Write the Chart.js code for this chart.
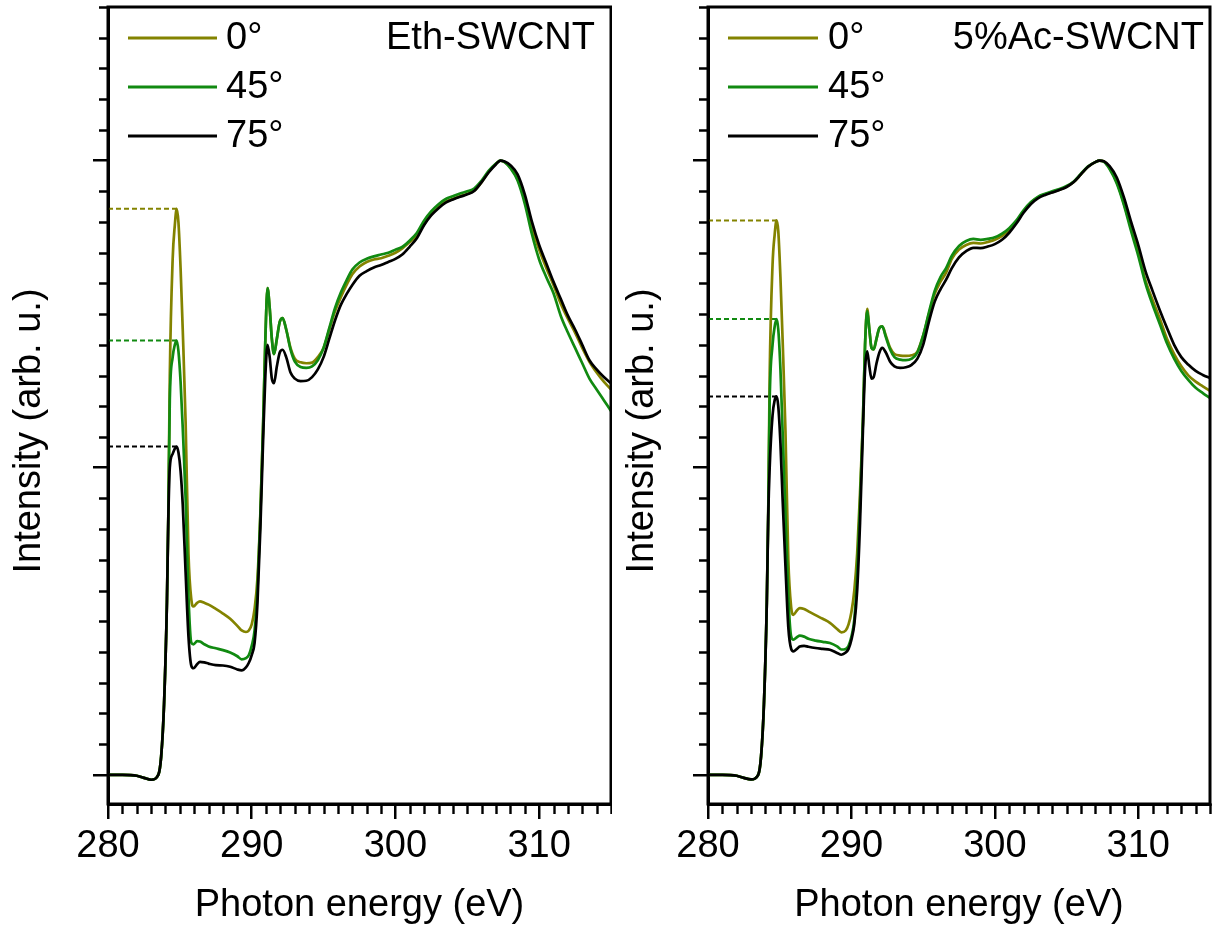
<!DOCTYPE html>
<html>
<head>
<meta charset="utf-8">
<script src="https://cdn.jsdelivr.net/npm/chart.js@4.4.1/dist/chart.umd.min.js"></script>
<style>
html,body{margin:0;padding:0;background:#fff;}
#wrap{position:relative;width:1212px;height:931px;overflow:hidden;background:#fff;}
#c1{position:absolute;left:0;top:0;}
#c2{position:absolute;left:612px;top:0;}
</style>
</head>
<body>
<div id="wrap">
<canvas id="c1" width="612" height="931"></canvas>
<canvas id="c2" width="600" height="931"></canvas>
</div>
<script>
// ---------------- data ----------------
const energy = [
 280, 281, 282, 282.5, 283, 283.5, 283.7, 283.9, 284.1, 284.2,
 284.3, 284.5, 284.65, 284.78, 284.9, 285.05, 285.2, 285.4, 285.6, 285.8,
 285.95, 286.2, 286.4, 286.7, 287, 287.5, 288, 288.5, 289, 289.3,
 289.6, 289.8, 290.0, 290.2, 290.4, 290.6, 290.8, 290.95, 291.1, 291.25,
 291.4, 291.55, 291.75, 291.95, 292.15, 292.4, 292.7, 293.0, 293.4, 293.8,
 294.2, 294.6, 295.0, 295.4, 295.8, 296.2, 296.6, 297.0, 297.5, 298,
 298.5, 299, 299.5, 300, 300.5, 301, 301.5, 302, 302.5, 303,
 303.5, 304, 304.5, 305, 305.5, 306, 306.5, 307, 307.3, 307.6,
 308, 308.5, 309, 309.5, 310, 310.5, 311, 311.5, 312, 312.5,
 313, 313.5, 314, 314.5, 315
];

// Eth-SWCNT
const eth0 = [
 0, 0, -0.003, -0.01, -0.016, 0.0, 0.06, 0.23, 0.56, 0.85,
 1.30, 1.68, 1.79, 1.843, 1.80, 1.65, 1.45, 1.15, 0.72, 0.57,
 0.548, 0.56, 0.565, 0.56, 0.554, 0.54, 0.525, 0.508, 0.485, 0.47,
 0.465, 0.47, 0.49, 0.54, 0.64, 0.85, 1.15, 1.42, 1.585, 1.52,
 1.42, 1.37, 1.42, 1.475, 1.487, 1.45, 1.39, 1.355, 1.343, 1.34,
 1.342, 1.36, 1.39, 1.45, 1.51, 1.555, 1.595, 1.63, 1.655, 1.67,
 1.678, 1.682, 1.69, 1.70, 1.715, 1.735, 1.755, 1.795, 1.825, 1.848,
 1.866, 1.875, 1.884, 1.892, 1.903, 1.93, 1.965, 1.99, 2.0, 1.995,
 1.978, 1.94, 1.87, 1.78, 1.71, 1.65, 1.595, 1.535, 1.485, 1.44,
 1.39, 1.345, 1.31, 1.28, 1.255
];
const eth45 = [
 0, 0, -0.003, -0.01, -0.016, 0.0, 0.06, 0.23, 0.56, 0.85,
 1.22, 1.36, 1.40, 1.414, 1.38, 1.28, 1.13, 0.90, 0.58, 0.43,
 0.425, 0.435, 0.434, 0.425, 0.418, 0.412, 0.406, 0.398, 0.386, 0.376,
 0.38, 0.39, 0.42, 0.47, 0.60, 0.84, 1.15, 1.42, 1.585, 1.52,
 1.42, 1.37, 1.42, 1.475, 1.487, 1.45, 1.385, 1.345, 1.328, 1.325,
 1.33, 1.35, 1.39, 1.455, 1.52, 1.57, 1.61, 1.645, 1.668, 1.68,
 1.688, 1.694, 1.70, 1.71, 1.72, 1.74, 1.765, 1.805, 1.835, 1.858,
 1.875, 1.884, 1.893, 1.900, 1.91, 1.935, 1.967, 1.99, 2.0, 1.995,
 1.975, 1.935, 1.86, 1.76, 1.678, 1.62, 1.568, 1.495, 1.44, 1.39,
 1.34, 1.29, 1.255, 1.22, 1.185
];
const eth75 = [
 0, 0, -0.003, -0.01, -0.016, 0.0, 0.06, 0.23, 0.56, 0.84,
 1.0, 1.045, 1.062, 1.069, 1.05, 0.99, 0.88, 0.66, 0.45, 0.355,
 0.347, 0.36, 0.368, 0.366, 0.362, 0.357, 0.356, 0.352, 0.343, 0.34,
 0.35, 0.365, 0.39, 0.43, 0.56, 0.80, 1.10, 1.30, 1.40, 1.36,
 1.29, 1.275, 1.33, 1.375, 1.384, 1.36, 1.31, 1.29, 1.282, 1.283,
 1.295, 1.32, 1.36, 1.42, 1.48, 1.53, 1.565, 1.595, 1.625, 1.64,
 1.652, 1.66, 1.67, 1.68, 1.695, 1.72, 1.748, 1.79, 1.822, 1.845,
 1.863, 1.873, 1.882, 1.89, 1.902, 1.93, 1.962, 1.988, 2.0, 1.997,
 1.985, 1.955, 1.89, 1.80, 1.725, 1.665, 1.605, 1.55, 1.495, 1.45,
 1.40, 1.35, 1.32, 1.295, 1.275
];

// 5%Ac-SWCNT
const ac0 = [
 0, 0, -0.003, -0.01, -0.015, 0.0, 0.06, 0.23, 0.56, 0.85,
 1.30, 1.66, 1.76, 1.805, 1.77, 1.62, 1.42, 1.12, 0.70, 0.545,
 0.521, 0.535, 0.543, 0.54, 0.532, 0.52, 0.508, 0.495, 0.475, 0.464,
 0.47, 0.49, 0.53, 0.60, 0.72, 0.92, 1.15, 1.40, 1.517, 1.45,
 1.39, 1.385, 1.42, 1.455, 1.46, 1.43, 1.39, 1.37, 1.365, 1.364,
 1.366, 1.378, 1.43, 1.50, 1.565, 1.605, 1.635, 1.68, 1.71, 1.725,
 1.732, 1.73, 1.735, 1.742, 1.755, 1.775, 1.80, 1.835, 1.862, 1.88,
 1.89, 1.897, 1.905, 1.915, 1.93, 1.955, 1.98, 1.995, 2.0, 1.997,
 1.975, 1.93, 1.86, 1.78, 1.70, 1.61, 1.545, 1.485, 1.42, 1.37,
 1.33, 1.30, 1.28, 1.265, 1.25
];
const ac45 = [
 0, 0, -0.003, -0.01, -0.015, 0.0, 0.06, 0.23, 0.56, 0.85,
 1.22, 1.40, 1.46, 1.484, 1.45, 1.32, 1.12, 0.85, 0.58, 0.45,
 0.44, 0.448, 0.453, 0.45, 0.443, 0.437, 0.433, 0.429, 0.418, 0.408,
 0.41, 0.42, 0.45, 0.505, 0.65, 0.88, 1.15, 1.40, 1.51, 1.45,
 1.39, 1.385, 1.42, 1.455, 1.46, 1.425, 1.385, 1.36, 1.352, 1.35,
 1.355, 1.375, 1.43, 1.505, 1.575, 1.62, 1.65, 1.69, 1.722, 1.738,
 1.745, 1.742, 1.745, 1.75, 1.762, 1.78, 1.805, 1.838, 1.864, 1.882,
 1.892, 1.9, 1.907, 1.917, 1.932, 1.957, 1.981, 1.995, 2.0, 1.996,
 1.972, 1.925, 1.855, 1.77, 1.69, 1.60, 1.53, 1.468, 1.405, 1.355,
 1.315, 1.285, 1.26, 1.243, 1.227
];
const ac75 = [
 0, 0, -0.003, -0.01, -0.015, 0.0, 0.06, 0.23, 0.56, 0.84,
 1.0, 1.17, 1.22, 1.232, 1.20, 1.08, 0.90, 0.68, 0.48, 0.41,
 0.402, 0.41, 0.418, 0.42, 0.417, 0.413, 0.41, 0.407, 0.397, 0.391,
 0.398, 0.41, 0.44, 0.49, 0.60, 0.82, 1.12, 1.32, 1.379, 1.33,
 1.29, 1.295, 1.34, 1.375, 1.39, 1.375, 1.345, 1.33, 1.325, 1.327,
 1.335, 1.355, 1.40, 1.475, 1.54, 1.58, 1.612, 1.65, 1.685, 1.705,
 1.716, 1.715, 1.72, 1.728, 1.742, 1.765, 1.795, 1.83, 1.858, 1.877,
 1.888, 1.896, 1.904, 1.914, 1.93, 1.955, 1.98, 1.995, 2.0, 1.998,
 1.982, 1.945, 1.88, 1.80, 1.725, 1.64, 1.575, 1.513, 1.455, 1.40,
 1.36, 1.335, 1.315, 1.302, 1.292
];

const angleLabels = ['0°', '45°', '75°'];
const panelNames = ['Eth-SWCNT', '5%Ac-SWCNT'];
const xTickValues = [280, 290, 300, 310];
const yMajorTickValues = [0, 1, 2];
const xMinorTickValues = [];
for (let v = 281; v <= 315; v++) if (v % 10 !== 0) xMinorTickValues.push(v);
const yMinorTickValues = [];
for (let i = 1; i <= 25; i++) if (i % 10 !== 0) yMinorTickValues.push(i / 10);

// ---------------- styling ----------------
const seriesColors = ['#838300', '#118a11', '#000000'];
const FONT = "'Liberation Sans', Arial, Helvetica, sans-serif";

function buildDatasets(seriesList) {
  const lines = seriesList.map((vals, i) => ({
    label: angleLabels[i],
    data: energy.map((e, k) => ({x: e, y: vals[k]})),
    borderColor: seriesColors[i],
    backgroundColor: seriesColors[i],
    borderWidth: 2.7,
    pointRadius: 0,
    cubicInterpolationMode: 'monotone',
    order: 3 - i,
    isSeries: true
  }));
  // dashed guide lines at the pi* peak height of each series
  const guides = seriesList.map((vals, i) => {
    let best = 0;
    for (let k = 0; k < energy.length; k++) {
      if (energy[k] < 288 && vals[k] > vals[best]) best = k;
    }
    return {
      label: angleLabels[i] + ' peak',
      data: [{x: energy[0], y: vals[best]}, {x: energy[best], y: vals[best]}],
      borderColor: seriesColors[i],
      borderWidth: 2,
      borderDash: [5, 3],
      pointRadius: 0,
      order: 10 + i,
      isSeries: false
    };
  });
  return lines.concat(guides);
}

function makePlugins(cfg) {
  return [{
    id: 'decor',
    afterDraw(chart) {
      const ctx = chart.ctx;
      const ca = chart.chartArea;
      const xs = chart.scales.x, ys = chart.scales.y;
      ctx.save();
      // minor ticks
      ctx.strokeStyle = '#000';
      ctx.lineWidth = 2.4;
      ctx.beginPath();
      xMinorTickValues.forEach(v => {
        const px = Math.round(xs.getPixelForValue(v)) + 0.5;
        ctx.moveTo(px, ca.bottom);
        ctx.lineTo(px, ca.bottom + 10);
      });
      yMinorTickValues.forEach(v => {
        const py = Math.round(ys.getPixelForValue(v)) + 0.5;
        ctx.moveTo(ca.left, py);
        ctx.lineTo(ca.left - 9, py);
      });
      ctx.stroke();
      // frame
      ctx.lineWidth = 3;
      ctx.strokeRect(ca.left, ca.top, ca.right - ca.left, ca.bottom - ca.top);
      // y title
      ctx.fillStyle = '#000';
      ctx.font = '38px ' + FONT;
      ctx.textAlign = 'center';
      ctx.textBaseline = 'middle';
      ctx.translate(cfg.yTitleX, cfg.yTitleY);
      ctx.rotate(-Math.PI / 2);
      ctx.fillText('Intensity (arb. u.)', 0, 0);
      ctx.restore();

      // legend
      ctx.save();
      ctx.font = '38px ' + FONT;
      ctx.textBaseline = 'middle';
      ctx.textAlign = 'left';
      const sets = chart.data.datasets.filter(d => d.isSeries);
      sets.forEach((d, i) => {
        const y = ca.top + 31 + i * 49;
        ctx.strokeStyle = d.borderColor;
        ctx.lineWidth = 2.8;
        ctx.beginPath();
        ctx.moveTo(ca.left + 20, y);
        ctx.lineTo(ca.left + cfg.legLineEnd, y);
        ctx.stroke();
        ctx.fillStyle = '#000';
        ctx.fillText(d.label, ca.left + cfg.legTextX, y + 1);
      });
      // panel label
      ctx.textAlign = 'right';
      ctx.fillText(cfg.panel, ca.right - cfg.labelInset, ca.top + 32);
      ctx.restore();
    }
  }];
}

function makeChart(canvasId, seriesList, cfg) {
  const axisGrid = {
    display: true, drawOnChartArea: false, drawTicks: true,
    tickLength: 15, tickWidth: 2.5, tickColor: '#000', color: '#000', lineWidth: 2.5
  };
  const axisBorder = {display: true, color: '#000', width: 3};
  return new Chart(document.getElementById(canvasId), {
    type: 'line',
    data: {datasets: buildDatasets(seriesList)},
    options: {
      responsive: false,
      animation: false,
      devicePixelRatio: 1,
      layout: {padding: {left: 0, right: cfg.padRight, top: 7, bottom: 0}},
      plugins: {legend: {display: false}, tooltip: {enabled: false}},
      scales: {
        x: {
          type: 'linear', min: 280, max: 315,
          afterBuildTicks: s => { s.ticks = xTickValues.map(v => ({value: v})); },
          afterFit: s => { s.height = 127; },
          grid: axisGrid, border: axisBorder,
          ticks: {color: '#000', font: {family: FONT, size: 38}, padding: 5, maxRotation: 0, autoSkip: false},
          title: {display: true, text: 'Photon energy (eV)', color: '#000',
                  font: {family: FONT, size: 38, lineHeight: 1.2}, padding: {top: 0, bottom: 3}}
        },
        y: {
          type: 'linear', min: -0.095, max: 2.5,
          afterBuildTicks: s => { s.ticks = yMajorTickValues.map(v => ({value: v})); },
          afterFit: s => { s.width = cfg.yWidth; },
          grid: axisGrid, border: axisBorder,
          ticks: {display: false}
        }
      }
    },
    plugins: makePlugins(cfg)
  });
}

makeChart('c1', [eth0, eth45, eth75], {
  panel: panelNames[0], yWidth: 108, padRight: 1, labelInset: 16,
  yTitleX: 30, yTitleY: 431, legLineEnd: 109, legTextX: 118
});
makeChart('c2', [ac0, ac45, ac75], {
  panel: panelNames[1], yWidth: 96, padRight: 2, labelInset: 6,
  yTitleX: 31, yTitleY: 431, legLineEnd: 110, legTextX: 120
});
</script>
</body>
</html>
